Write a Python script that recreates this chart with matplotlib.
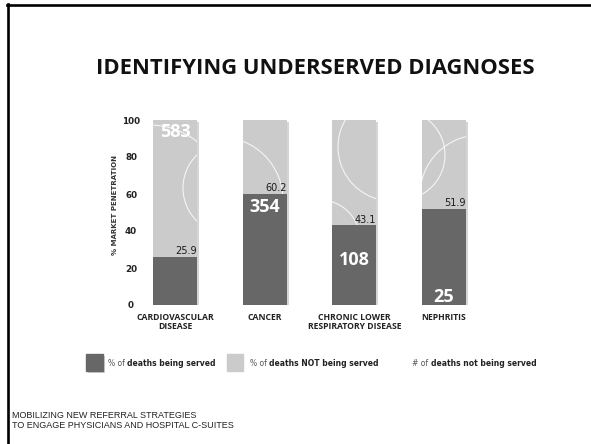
import matplotlib
matplotlib.use("Agg")
import matplotlib.pyplot as plt
import matplotlib.patheffects as pe
from matplotlib.patches import Rectangle, Circle
from matplotlib.lines import Line2D
import numpy as np

# data
categories = ["CARDIOVASCULAR\nDISEASE", "CANCER", "CHRONIC LOWER\nRESPIRATORY DISEASE", "NEPHRITIS"]
served_pct = [25.9, 60.2, 43.1, 51.9]
deaths_not_served = [583, 354, 108, 25]
y_ticks = [0, 20, 40, 60, 80, 100]

# layout only: where the white counts sit inside each bar (y in % units)
count_label_y = [93.5, 53, 24.3, 4.5]

W, H = 591, 444
DARK = "#676767"
LIGHT = "#cbcbcb"

fig = plt.figure(figsize=(W / 100, H / 100), dpi=100)
fig.patch.set_facecolor("white")

# slide frame (top + left rule)
fig.add_artist(Line2D([7 / W, 1], [1 - 5 / H, 1 - 5 / H], color="black", lw=1.9,
                      transform=fig.transFigure))
fig.add_artist(Line2D([8 / W, 8 / W], [1 - 4 / H, 0], color="black", lw=1.9,
                      transform=fig.transFigure))

fig.text(315 / W, 1 - 69 / H, "IDENTIFYING UNDERSERVED DIAGNOSES", ha="center", va="center",
         fontsize=15.8, fontweight="bold", family="Open Sans", color="#111111")

ax = fig.add_axes([145 / W, 139 / H, (488.8 - 145) / W, 185 / H])
x = np.arange(len(categories))
served = np.array(served_pct)
shadow = [pe.SimplePatchShadow(offset=(1.5, -1.5), shadow_rgbFace="#888888", alpha=0.35), pe.Normal()]

light_bars = ax.bar(x, 100 - served, bottom=served, width=0.49, color=LIGHT, zorder=2,
                    path_effects=shadow)
dark_bars = ax.bar(x, served, width=0.49, color=DARK, zorder=3, path_effects=shadow)

# faint white arcs decorating the light part of the bars (centre in px from top-left, radius px)
arcs = [(0, 150, 200, 75), (0, 229, 188, 46), (1, 220, 200, 63),
        (2, 392, 147, 54), (2, 320, 240, 40), (3, 400, 155, 45), (3, 480, 195, 60)]
for i, cx, cy, r in arcs:
    c = Circle((cx / 100, (H - cy) / 100), r / 100, transform=fig.dpi_scale_trans,
               fill=False, edgecolor="white", lw=0.8, alpha=0.8, zorder=2.5)
    ax.add_patch(c)
    c.set_clip_path(light_bars[i])

for i, v in enumerate(served_pct):
    ax.text(x[i] + 0.245, v + 0.4, f"{v}", ha="right", va="bottom", fontsize=7,
            color="#1a1a1a", zorder=4)
    ax.text(x[i], count_label_y[i], str(deaths_not_served[i]), ha="center", va="center",
            fontsize=13, fontweight="bold", family="Open Sans", color="white", zorder=4)

ax.set_xlim(-0.5 + (145 - 130.2) / 89.67, 3.5)
ax.set_ylim(0, 100)
ax.set_yticks(y_ticks)
ax.set_yticklabels([str(t) for t in y_ticks], fontsize=6.3, fontweight="bold", color="#222222")
for lab in ax.get_yticklabels():
    lab.set_ha("center")
ax.set_xticks(x)
ax.set_xticklabels(categories, fontsize=6.2, fontweight="bold", family="Open Sans",
                   color="#222222", linespacing=0.95)
ax.tick_params(axis="y", length=0, pad=10)
ax.tick_params(axis="x", length=0, pad=6)
for s in ax.spines.values():
    s.set_visible(False)
ax.patch.set_alpha(0)

fig.text(115 / W, 1 - 205 / H, "% MARKET PENETRATION", rotation=90, ha="center", va="center",
         fontsize=5, fontweight="bold", color="#333333")

# legend
def legend_text(px, label_bold):
    t = fig.text(px / W, 1 - 363 / H, label_bold[0], ha="left", va="center",
                 fontsize=5.5, color="#555555")
    fig.add_artist(plt.Annotation(label_bold[1], xy=(1, 0), xycoords=t, va="bottom",
                                  fontsize=5.5, fontweight="bold", color="#222222"))

fig.add_artist(Rectangle((86 / W, (H - 371) / H), 17 / W, 17 / H, color=DARK,
                         transform=fig.transFigure, path_effects=shadow))
legend_text(108, ("% of ", "deaths being served"))
fig.add_artist(Rectangle((227 / W, (H - 371) / H), 16 / W, 17 / H, color=LIGHT,
                         transform=fig.transFigure))
legend_text(250, ("% of ", "deaths NOT being served"))
legend_text(412, ("# of ", "deaths not being served"))

fig.text(12 / W, 1 - 411 / H, "MOBILIZING NEW REFERRAL STRATEGIES\nTO ENGAGE PHYSICIANS AND HOSPITAL C-SUITES",
         ha="left", va="top", fontsize=6.5, family="Liberation Sans", color="#222222",
         linespacing=1.15)

fig.savefig("out.png", dpi=100)
